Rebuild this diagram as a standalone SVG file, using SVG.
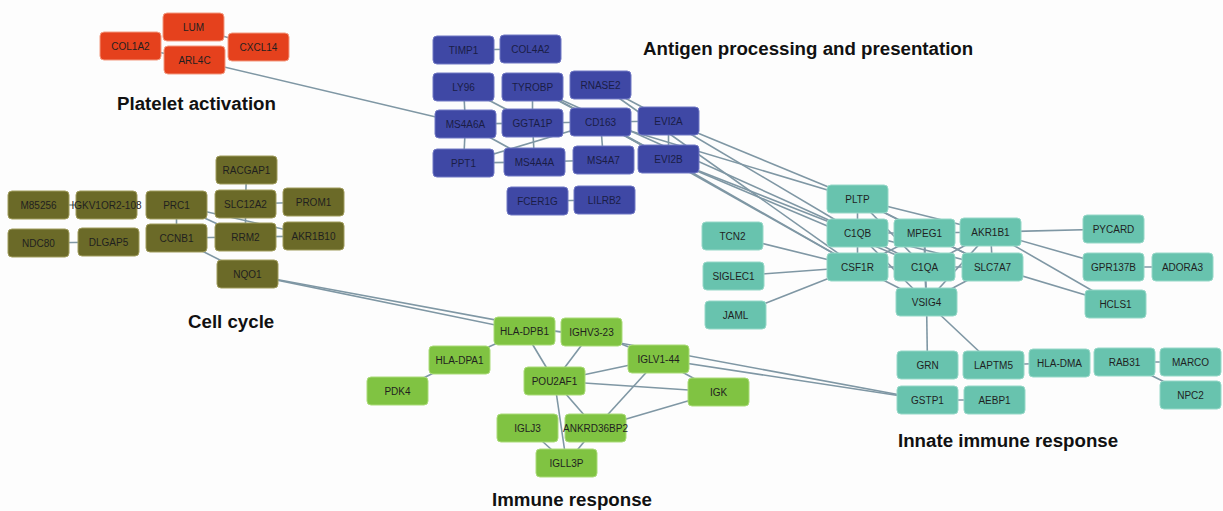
<svg xmlns="http://www.w3.org/2000/svg" width="1223" height="511" viewBox="0 0 1223 511">
<style>
.bg{fill:#fdfdfd}
#edges line{stroke:#7f97a4;stroke-width:1.6;fill:none}
.node rect{width:61px;height:28px;rx:4px;ry:4px;stroke-width:1}
.red rect{fill:#e5411d;stroke:#f39a80}
.blue rect{fill:#3f48a5;stroke:#7078c4}
.olive rect{fill:#6b6a28;stroke:#a09c5c}
.teal rect{fill:#68c3ae;stroke:#96d8c8}
.green rect{fill:#80c342;stroke:#aadb78}
.node text{font-family:"Liberation Sans",Arial,sans-serif;font-size:10px;text-anchor:middle;fill:#1f1f1f}
.blue text{fill:#1a1d45}
.title{font-family:"Liberation Sans",Arial,sans-serif;font-size:18.7px;font-weight:bold;fill:#111}
</style>
<rect class="bg" x="0" y="0" width="1223" height="511"/>
<g id="edges">
<line x1="130.5" y1="46" x2="194.5" y2="60"/>
<line x1="193.5" y1="27" x2="258.5" y2="47"/>
<line x1="194.5" y1="60" x2="465.5" y2="124"/>
<line x1="463.5" y1="50" x2="530.5" y2="49"/>
<line x1="463.5" y1="87" x2="465.5" y2="124"/>
<line x1="463.5" y1="87" x2="532.5" y2="123"/>
<line x1="532.5" y1="87" x2="532.5" y2="123"/>
<line x1="532.5" y1="87" x2="600.5" y2="122"/>
<line x1="532.5" y1="87" x2="668.5" y2="159"/>
<line x1="532.5" y1="87" x2="857.5" y2="233"/>
<line x1="600.5" y1="85" x2="668.5" y2="121"/>
<line x1="600.5" y1="85" x2="857.5" y2="267"/>
<line x1="465.5" y1="124" x2="532.5" y2="123"/>
<line x1="532.5" y1="123" x2="600.5" y2="122"/>
<line x1="600.5" y1="122" x2="668.5" y2="121"/>
<line x1="465.5" y1="124" x2="463.5" y2="163"/>
<line x1="465.5" y1="124" x2="534.5" y2="162"/>
<line x1="532.5" y1="123" x2="534.5" y2="162"/>
<line x1="463.5" y1="163" x2="600.5" y2="122"/>
<line x1="463.5" y1="163" x2="534.5" y2="162"/>
<line x1="534.5" y1="162" x2="603.5" y2="160"/>
<line x1="600.5" y1="122" x2="603.5" y2="160"/>
<line x1="600.5" y1="122" x2="668.5" y2="159"/>
<line x1="600.5" y1="122" x2="857.5" y2="199"/>
<line x1="600.5" y1="122" x2="857.5" y2="267"/>
<line x1="668.5" y1="121" x2="668.5" y2="159"/>
<line x1="668.5" y1="121" x2="857.5" y2="199"/>
<line x1="668.5" y1="121" x2="857.5" y2="233"/>
<line x1="668.5" y1="159" x2="857.5" y2="233"/>
<line x1="668.5" y1="159" x2="857.5" y2="267"/>
<line x1="668.5" y1="159" x2="924.5" y2="267"/>
<line x1="537.5" y1="201" x2="604.5" y2="200"/>
<line x1="38.5" y1="205" x2="106.5" y2="205"/>
<line x1="38.5" y1="243" x2="108.5" y2="242"/>
<line x1="176.5" y1="205" x2="176.5" y2="238"/>
<line x1="176.5" y1="205" x2="245.5" y2="237"/>
<line x1="176.5" y1="205" x2="313.5" y2="236"/>
<line x1="246.5" y1="170" x2="245.5" y2="204"/>
<line x1="245.5" y1="204" x2="313.5" y2="202"/>
<line x1="245.5" y1="204" x2="245.5" y2="237"/>
<line x1="176.5" y1="238" x2="245.5" y2="237"/>
<line x1="245.5" y1="237" x2="313.5" y2="236"/>
<line x1="176.5" y1="238" x2="247.5" y2="274"/>
<line x1="247.5" y1="274" x2="524.5" y2="331"/>
<line x1="247.5" y1="274" x2="927.5" y2="400"/>
<line x1="524.5" y1="331" x2="591.5" y2="332"/>
<line x1="524.5" y1="331" x2="459.5" y2="360"/>
<line x1="459.5" y1="360" x2="397.5" y2="391"/>
<line x1="524.5" y1="331" x2="554.5" y2="381"/>
<line x1="591.5" y1="332" x2="554.5" y2="381"/>
<line x1="591.5" y1="332" x2="658.5" y2="359"/>
<line x1="554.5" y1="381" x2="658.5" y2="359"/>
<line x1="554.5" y1="381" x2="718.5" y2="392"/>
<line x1="658.5" y1="359" x2="718.5" y2="392"/>
<line x1="658.5" y1="359" x2="595.5" y2="428"/>
<line x1="658.5" y1="359" x2="927.5" y2="400"/>
<line x1="554.5" y1="381" x2="595.5" y2="428"/>
<line x1="554.5" y1="381" x2="566.5" y2="463"/>
<line x1="718.5" y1="392" x2="595.5" y2="428"/>
<line x1="527.5" y1="428" x2="566.5" y2="463"/>
<line x1="595.5" y1="428" x2="566.5" y2="463"/>
<line x1="857.5" y1="199" x2="857.5" y2="233"/>
<line x1="857.5" y1="199" x2="924.5" y2="233"/>
<line x1="857.5" y1="199" x2="924.5" y2="267"/>
<line x1="857.5" y1="199" x2="990.5" y2="232"/>
<line x1="857.5" y1="199" x2="992.5" y2="267"/>
<line x1="857.5" y1="233" x2="924.5" y2="233"/>
<line x1="857.5" y1="233" x2="857.5" y2="267"/>
<line x1="857.5" y1="233" x2="924.5" y2="267"/>
<line x1="857.5" y1="233" x2="926.5" y2="302"/>
<line x1="857.5" y1="233" x2="992.5" y2="267"/>
<line x1="924.5" y1="233" x2="990.5" y2="232"/>
<line x1="924.5" y1="233" x2="924.5" y2="267"/>
<line x1="924.5" y1="233" x2="857.5" y2="267"/>
<line x1="924.5" y1="233" x2="992.5" y2="267"/>
<line x1="924.5" y1="233" x2="926.5" y2="302"/>
<line x1="990.5" y1="232" x2="992.5" y2="267"/>
<line x1="990.5" y1="232" x2="924.5" y2="267"/>
<line x1="990.5" y1="232" x2="926.5" y2="302"/>
<line x1="990.5" y1="232" x2="1113.5" y2="229"/>
<line x1="990.5" y1="232" x2="1113.5" y2="267"/>
<line x1="990.5" y1="232" x2="1115.5" y2="304"/>
<line x1="857.5" y1="267" x2="924.5" y2="267"/>
<line x1="857.5" y1="267" x2="926.5" y2="302"/>
<line x1="857.5" y1="267" x2="732.5" y2="236"/>
<line x1="857.5" y1="267" x2="733.5" y2="276"/>
<line x1="857.5" y1="267" x2="735.5" y2="315"/>
<line x1="924.5" y1="267" x2="992.5" y2="267"/>
<line x1="924.5" y1="267" x2="926.5" y2="302"/>
<line x1="992.5" y1="267" x2="926.5" y2="302"/>
<line x1="992.5" y1="267" x2="1115.5" y2="304"/>
<line x1="1113.5" y1="267" x2="1182.5" y2="267"/>
<line x1="926.5" y1="302" x2="927.5" y2="365"/>
<line x1="926.5" y1="302" x2="993.5" y2="365"/>
<line x1="993.5" y1="365" x2="1059.5" y2="363"/>
<line x1="927.5" y1="400" x2="994.5" y2="400"/>
<line x1="1124.5" y1="362" x2="1190.5" y2="362"/>
<line x1="1124.5" y1="362" x2="1190.5" y2="395"/>
</g>
<g id="titles">
<text class="title" x="117" y="110">Platelet activation</text>
<text class="title" x="643" y="55">Antigen processing and presentation</text>
<text class="title" x="188" y="328">Cell cycle</text>
<text class="title" x="492" y="506">Immune response</text>
<text class="title" x="898" y="447">Innate immune response</text>
</g>
<g id="n-LUM" class="node red"><rect x="163" y="13"/><text x="193.5" y="30.5">LUM</text></g>
<g id="n-COL1A2" class="node red"><rect x="100" y="32"/><text x="130.5" y="49.5">COL1A2</text></g>
<g id="n-ARL4C" class="node red"><rect x="164" y="46"/><text x="194.5" y="63.5">ARL4C</text></g>
<g id="n-CXCL14" class="node red"><rect x="228" y="33"/><text x="258.5" y="50.5">CXCL14</text></g>
<g id="n-TIMP1" class="node blue"><rect x="433" y="36"/><text x="463.5" y="53.5">TIMP1</text></g>
<g id="n-COL4A2" class="node blue"><rect x="500" y="35"/><text x="530.5" y="52.5">COL4A2</text></g>
<g id="n-LY96" class="node blue"><rect x="433" y="73"/><text x="463.5" y="90.5">LY96</text></g>
<g id="n-TYROBP" class="node blue"><rect x="502" y="73"/><text x="532.5" y="90.5">TYROBP</text></g>
<g id="n-RNASE2" class="node blue"><rect x="570" y="71"/><text x="600.5" y="88.5">RNASE2</text></g>
<g id="n-MS4A6A" class="node blue"><rect x="435" y="110"/><text x="465.5" y="127.5">MS4A6A</text></g>
<g id="n-GGTA1P" class="node blue"><rect x="502" y="109"/><text x="532.5" y="126.5">GGTA1P</text></g>
<g id="n-CD163" class="node blue"><rect x="570" y="108"/><text x="600.5" y="125.5">CD163</text></g>
<g id="n-EVI2A" class="node blue"><rect x="638" y="107"/><text x="668.5" y="124.5">EVI2A</text></g>
<g id="n-PPT1" class="node blue"><rect x="433" y="149"/><text x="463.5" y="166.5">PPT1</text></g>
<g id="n-MS4A4A" class="node blue"><rect x="504" y="148"/><text x="534.5" y="165.5">MS4A4A</text></g>
<g id="n-MS4A7" class="node blue"><rect x="573" y="146"/><text x="603.5" y="163.5">MS4A7</text></g>
<g id="n-EVI2B" class="node blue"><rect x="638" y="145"/><text x="668.5" y="162.5">EVI2B</text></g>
<g id="n-FCER1G" class="node blue"><rect x="507" y="187"/><text x="537.5" y="204.5">FCER1G</text></g>
<g id="n-LILRB2" class="node blue"><rect x="574" y="186"/><text x="604.5" y="203.5">LILRB2</text></g>
<g id="n-RACGAP1" class="node olive"><rect x="216" y="156"/><text x="246.5" y="173.5">RACGAP1</text></g>
<g id="n-M85256" class="node olive"><rect x="8" y="191"/><text x="38.5" y="208.5">M85256</text></g>
<g id="n-IGKV1OR2-108" class="node olive"><rect x="76" y="191"/><text x="106.5" y="208.5">IGKV1OR2-108</text></g>
<g id="n-PRC1" class="node olive"><rect x="146" y="191"/><text x="176.5" y="208.5">PRC1</text></g>
<g id="n-SLC12A2" class="node olive"><rect x="215" y="190"/><text x="245.5" y="207.5">SLC12A2</text></g>
<g id="n-PROM1" class="node olive"><rect x="283" y="188"/><text x="313.5" y="205.5">PROM1</text></g>
<g id="n-NDC80" class="node olive"><rect x="8" y="229"/><text x="38.5" y="246.5">NDC80</text></g>
<g id="n-DLGAP5" class="node olive"><rect x="78" y="228"/><text x="108.5" y="245.5">DLGAP5</text></g>
<g id="n-CCNB1" class="node olive"><rect x="146" y="224"/><text x="176.5" y="241.5">CCNB1</text></g>
<g id="n-RRM2" class="node olive"><rect x="215" y="223"/><text x="245.5" y="240.5">RRM2</text></g>
<g id="n-AKR1B10" class="node olive"><rect x="283" y="222"/><text x="313.5" y="239.5">AKR1B10</text></g>
<g id="n-NQO1" class="node olive"><rect x="217" y="260"/><text x="247.5" y="277.5">NQO1</text></g>
<g id="n-HLA-DPB1" class="node green"><rect x="494" y="317"/><text x="524.5" y="334.5">HLA-DPB1</text></g>
<g id="n-IGHV3-23" class="node green"><rect x="561" y="318"/><text x="591.5" y="335.5">IGHV3-23</text></g>
<g id="n-HLA-DPA1" class="node green"><rect x="429" y="346"/><text x="459.5" y="363.5">HLA-DPA1</text></g>
<g id="n-IGLV1-44" class="node green"><rect x="628" y="345"/><text x="658.5" y="362.5">IGLV1-44</text></g>
<g id="n-POU2AF1" class="node green"><rect x="524" y="367"/><text x="554.5" y="384.5">POU2AF1</text></g>
<g id="n-PDK4" class="node green"><rect x="367" y="377"/><text x="397.5" y="394.5">PDK4</text></g>
<g id="n-IGK" class="node green"><rect x="688" y="378"/><text x="718.5" y="395.5">IGK</text></g>
<g id="n-IGLJ3" class="node green"><rect x="497" y="414"/><text x="527.5" y="431.5">IGLJ3</text></g>
<g id="n-ANKRD36BP2" class="node green"><rect x="565" y="414"/><text x="595.5" y="431.5">ANKRD36BP2</text></g>
<g id="n-IGLL3P" class="node green"><rect x="536" y="449"/><text x="566.5" y="466.5">IGLL3P</text></g>
<g id="n-PLTP" class="node teal"><rect x="827" y="185"/><text x="857.5" y="202.5">PLTP</text></g>
<g id="n-C1QB" class="node teal"><rect x="827" y="219"/><text x="857.5" y="236.5">C1QB</text></g>
<g id="n-MPEG1" class="node teal"><rect x="894" y="219"/><text x="924.5" y="236.5">MPEG1</text></g>
<g id="n-AKR1B1" class="node teal"><rect x="960" y="218"/><text x="990.5" y="235.5">AKR1B1</text></g>
<g id="n-TCN2" class="node teal"><rect x="702" y="222"/><text x="732.5" y="239.5">TCN2</text></g>
<g id="n-CSF1R" class="node teal"><rect x="827" y="253"/><text x="857.5" y="270.5">CSF1R</text></g>
<g id="n-C1QA" class="node teal"><rect x="894" y="253"/><text x="924.5" y="270.5">C1QA</text></g>
<g id="n-SLC7A7" class="node teal"><rect x="962" y="253"/><text x="992.5" y="270.5">SLC7A7</text></g>
<g id="n-SIGLEC1" class="node teal"><rect x="703" y="262"/><text x="733.5" y="279.5">SIGLEC1</text></g>
<g id="n-VSIG4" class="node teal"><rect x="896" y="288"/><text x="926.5" y="305.5">VSIG4</text></g>
<g id="n-JAML" class="node teal"><rect x="705" y="301"/><text x="735.5" y="318.5">JAML</text></g>
<g id="n-PYCARD" class="node teal"><rect x="1083" y="215"/><text x="1113.5" y="232.5">PYCARD</text></g>
<g id="n-GPR137B" class="node teal"><rect x="1083" y="253"/><text x="1113.5" y="270.5">GPR137B</text></g>
<g id="n-ADORA3" class="node teal"><rect x="1152" y="253"/><text x="1182.5" y="270.5">ADORA3</text></g>
<g id="n-HCLS1" class="node teal"><rect x="1085" y="290"/><text x="1115.5" y="307.5">HCLS1</text></g>
<g id="n-GRN" class="node teal"><rect x="897" y="351"/><text x="927.5" y="368.5">GRN</text></g>
<g id="n-LAPTM5" class="node teal"><rect x="963" y="351"/><text x="993.5" y="368.5">LAPTM5</text></g>
<g id="n-HLA-DMA" class="node teal"><rect x="1029" y="349"/><text x="1059.5" y="366.5">HLA-DMA</text></g>
<g id="n-RAB31" class="node teal"><rect x="1094" y="348"/><text x="1124.5" y="365.5">RAB31</text></g>
<g id="n-MARCO" class="node teal"><rect x="1160" y="348"/><text x="1190.5" y="365.5">MARCO</text></g>
<g id="n-GSTP1" class="node teal"><rect x="897" y="386"/><text x="927.5" y="403.5">GSTP1</text></g>
<g id="n-AEBP1" class="node teal"><rect x="964" y="386"/><text x="994.5" y="403.5">AEBP1</text></g>
<g id="n-NPC2" class="node teal"><rect x="1160" y="381"/><text x="1190.5" y="398.5">NPC2</text></g>
</svg>
